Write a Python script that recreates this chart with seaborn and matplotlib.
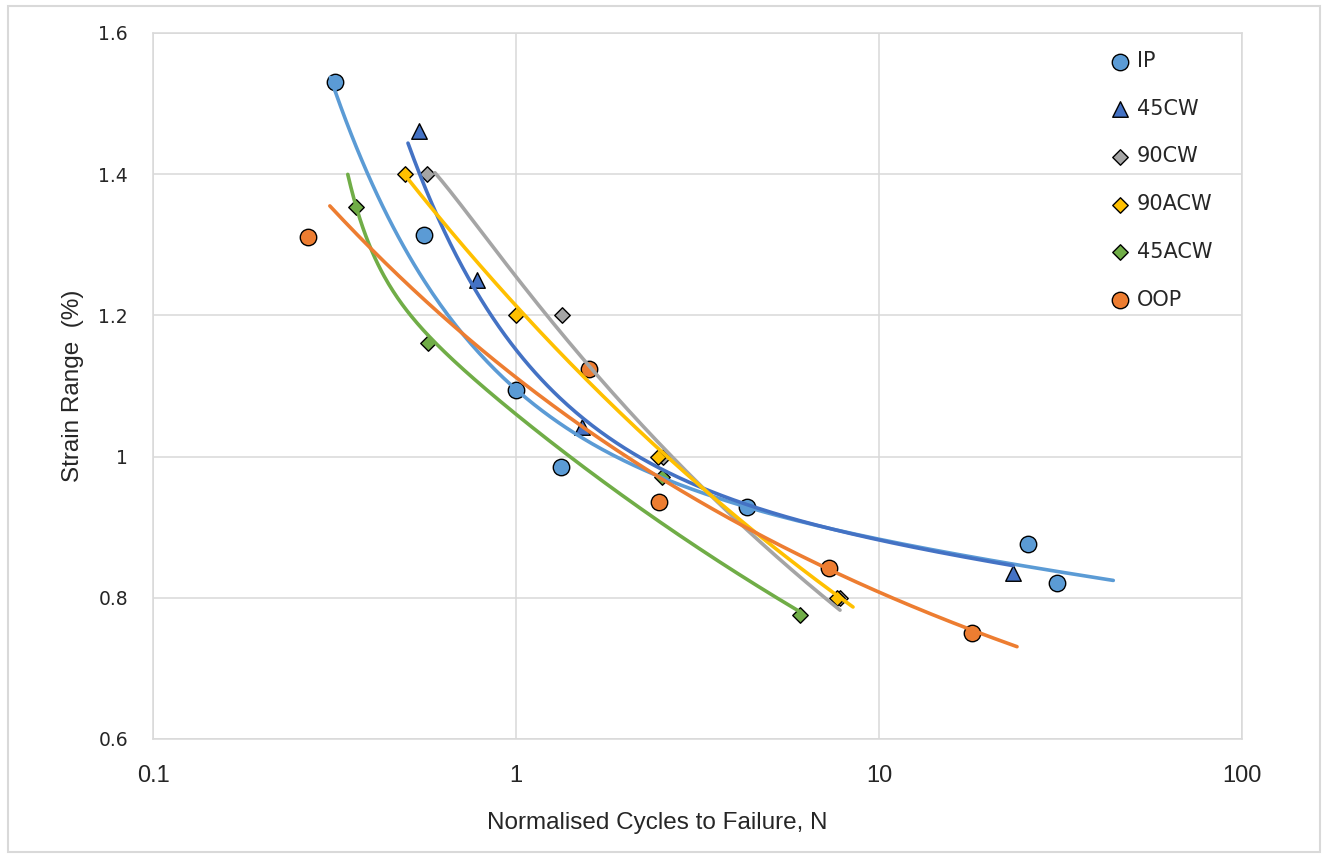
import numpy as np
import pandas as pd
import matplotlib
matplotlib.use("Agg")
import matplotlib.pyplot as plt
import seaborn as sns
from matplotlib.patches import Rectangle
from matplotlib.ticker import NullLocator
from matplotlib import font_manager

# ---------------- data ----------------
series_names = ["IP", "45CW", "90CW", "90ACW", "45ACW", "OOP"]

ip_x = [0.317, 0.558, 1.0, 1.33, 4.33, 25.7, 30.9]
ip_y = [1.531, 1.314, 1.094, 0.985, 0.929, 0.876, 0.821]

cw45_x = [0.54, 0.78, 1.52, 23.4]
cw45_y = [1.461, 1.250, 1.042, 0.835]

cw90_x = [0.57, 1.34, 2.54, 7.8]
cw90_y = [1.40, 1.20, 1.00, 0.80]

acw90_x = [0.495, 1.0, 2.46, 7.66]
acw90_y = [1.40, 1.20, 1.00, 0.80]

acw45_x = [0.362, 0.572, 2.52, 6.06]
acw45_y = [1.354, 1.161, 0.971, 0.776]

oop_x = [0.267, 1.59, 2.48, 7.28, 18.0]
oop_y = [1.311, 1.124, 0.936, 0.842, 0.750]

# fitted life curves (x, strain)
ip_fit_x = [0.308, 0.396, 0.479, 0.520, 0.796, 1.0, 1.38, 2.34, 4.33, 6.87, 10.1, 23.4, 44.2]
ip_fit_y = [1.524, 1.406, 1.317, 1.278, 1.140, 1.090, 1.033, 0.977, 0.934, 0.907, 0.886, 0.842, 0.821]

cw45_fit_x = [0.504, 0.645, 0.781, 1.026, 1.32, 1.63, 2.49, 3.42, 4.33, 10.1, 23.4]
cw45_fit_y = [1.444, 1.307, 1.246, 1.137, 1.080, 1.038, 0.981, 0.957, 0.934, 0.886, 0.842]

cw90_fit_x = [0.598, 1.57, 2.45, 3.81, 7.81]
cw90_fit_y = [1.402, 1.137, 1.024, 0.910, 0.787]

acw90_fit_x = [0.495, 1.0, 1.38, 2.45, 3.58, 8.48]
acw90_fit_y = [1.399, 1.212, 1.137, 1.014, 0.939, 0.786]

acw45_fit_x = [0.344, 0.365, 0.391, 0.422, 0.479, 0.569, 0.670, 1.0, 2.10, 3.72, 6.06]
acw45_fit_y = [1.397, 1.354, 1.307, 1.260, 1.226, 1.165, 1.137, 1.059, 0.939, 0.854, 0.776]

oop_fit_x = [0.307, 0.479, 0.848, 1.32, 2.49, 3.21, 7.33, 24.0]
oop_fit_y = [1.352, 1.260, 1.141, 1.063, 0.971, 0.934, 0.842, 0.730]

x_ticks = [0.1, 1, 10, 100]
x_tick_labels = ["0.1", "1", "10", "100"]
y_ticks = [0.6, 0.8, 1.0, 1.2, 1.4, 1.6]
y_tick_labels = ["0.6", "0.8", "1", "1.2", "1.4", "1.6"]

colors = ["#5B9BD5", "#4472C4", "#A5A5A5", "#FFC000", "#70AD47", "#ED7D31"]
markers = ["o", "^", "D", "D", "D", "o"]
msizes = [140, 125, 62, 62, 62, 140]


def fit_two_power(x, y):
    """Least-squares fit of y = A*x^b + C*x^c (strain-life form)."""
    x = np.asarray(x, float)
    y = np.asarray(y, float)
    bs = np.linspace(-0.6, 0.2, 81)
    cs = np.linspace(-6.0, -0.2, 117)
    lx = np.log(x)
    X1 = np.exp(np.outer(bs, lx))
    X2 = np.exp(np.outer(cs, lx))
    S11 = (X1 ** 2).sum(1)[:, None]
    S22 = (X2 ** 2).sum(1)[None, :]
    S12 = X1 @ X2.T
    S1y = (X1 @ y)[:, None]
    S2y = (X2 @ y)[None, :]
    det = S11 * S22 - S12 ** 2
    with np.errstate(divide="ignore", invalid="ignore"):
        A = (S22 * S1y - S12 * S2y) / det
        C = (S11 * S2y - S12 * S1y) / det
        sse = A ** 2 * S11 + C ** 2 * S22 + 2 * A * C * S12 - 2 * A * S1y - 2 * C * S2y + (y @ y)
    bad = np.abs(bs[:, None] - cs[None, :]) < 0.1
    sse = np.where(bad | ~np.isfinite(sse), np.inf, sse)
    i, j = np.unravel_index(np.argmin(sse), sse.shape)
    a, b, c, cc = A[i, j], bs[i], C[i, j], cs[j]
    return lambda t: a * t ** b + c * t ** cc


points = [(ip_x, ip_y), (cw45_x, cw45_y), (cw90_x, cw90_y),
          (acw90_x, acw90_y), (acw45_x, acw45_y), (oop_x, oop_y)]
fits = [(ip_fit_x, ip_fit_y), (cw45_fit_x, cw45_fit_y), (cw90_fit_x, cw90_fit_y),
        (acw90_fit_x, acw90_fit_y), (acw45_fit_x, acw45_fit_y), (oop_fit_x, oop_fit_y)]

# ---------------- style ----------------
sns.set_style("white")
plt.rcParams["font.family"] = ["DejaVu Sans"]
names = {f.name for f in font_manager.fontManager.ttflist}
label_font = "Liberation Sans" if "Liberation Sans" in names else "DejaVu Sans"

W, H = 1327, 858
fig = plt.figure(figsize=(W / 100, H / 100), dpi=100)
fig.patch.set_facecolor("white")
ax = fig.add_axes([153 / W, 1 - 739 / H, 1089 / W, 706 / H])

grid_c = "#D9D9D9"

handles = []
for name, (px, py), col, mk, ms in zip(series_names, points, colors, markers, msizes):
    df = pd.DataFrame({"N": px, "strain": py})
    sns.scatterplot(data=df, x="N", y="strain", marker=mk, s=ms, color=col,
                    edgecolor="black", linewidth=1.0, ax=ax, zorder=3, legend=False)
    coll = ax.collections[-1]
    coll.set_label(name)
    handles.append(coll)

for (fx, fy), col in zip(fits, colors):
    f = fit_two_power(fx, fy)
    xs = np.logspace(np.log10(min(fx)), np.log10(max(fx)), 300)
    sns.lineplot(x=xs, y=f(xs), color=col, linewidth=2.6, ax=ax, zorder=4,
                 legend=False, sort=False, estimator=None)

ax.set_xscale("log")
ax.set_xlim(0.1, 100)
ax.set_ylim(0.6, 1.6)
ax.set_xticks(x_ticks)
ax.set_xticklabels(x_tick_labels, family=label_font, fontsize=17)
ax.xaxis.set_minor_locator(NullLocator())
ax.set_yticks(y_ticks)
ax.set_yticklabels(y_tick_labels, family="DejaVu Sans", fontsize=13.5)
ax.tick_params(axis="both", length=0)
ax.tick_params(axis="x", pad=19)
ax.tick_params(axis="y", pad=18)

ax.grid(True, color=grid_c, linewidth=1.1)
ax.set_axisbelow(True)
for sp in ax.spines.values():
    sp.set_color(grid_c)
    sp.set_linewidth(1.1)

ax.set_xlabel("Normalised Cycles to Failure, N", family=label_font, fontsize=17.5)
ax.set_ylabel("Strain Range  (%)", family=label_font, fontsize=17.5)
ax.xaxis.set_label_coords((657 - 153) / 1089, (739 - 812) / 706)
ax.yaxis.set_label_coords((84 - 153) / 1089, 0.5)

ax.legend(handles=handles, labels=series_names, loc="upper left",
          bbox_to_anchor=(1110 / W, 1 - 51 / H), bbox_transform=fig.transFigure,
          frameon=False, prop={"family": "DejaVu Sans", "size": 15},
          labelspacing=1.33, handletextpad=0.3, handlelength=1.0,
          borderpad=0, borderaxespad=0)

fig.add_artist(Rectangle((8 / W, 6 / H), (1320 - 8) / W, (852 - 6) / H,
                         transform=fig.transFigure, fill=False,
                         edgecolor=grid_c, linewidth=1.5))

fig.savefig("out.png", dpi=100, facecolor="white")
